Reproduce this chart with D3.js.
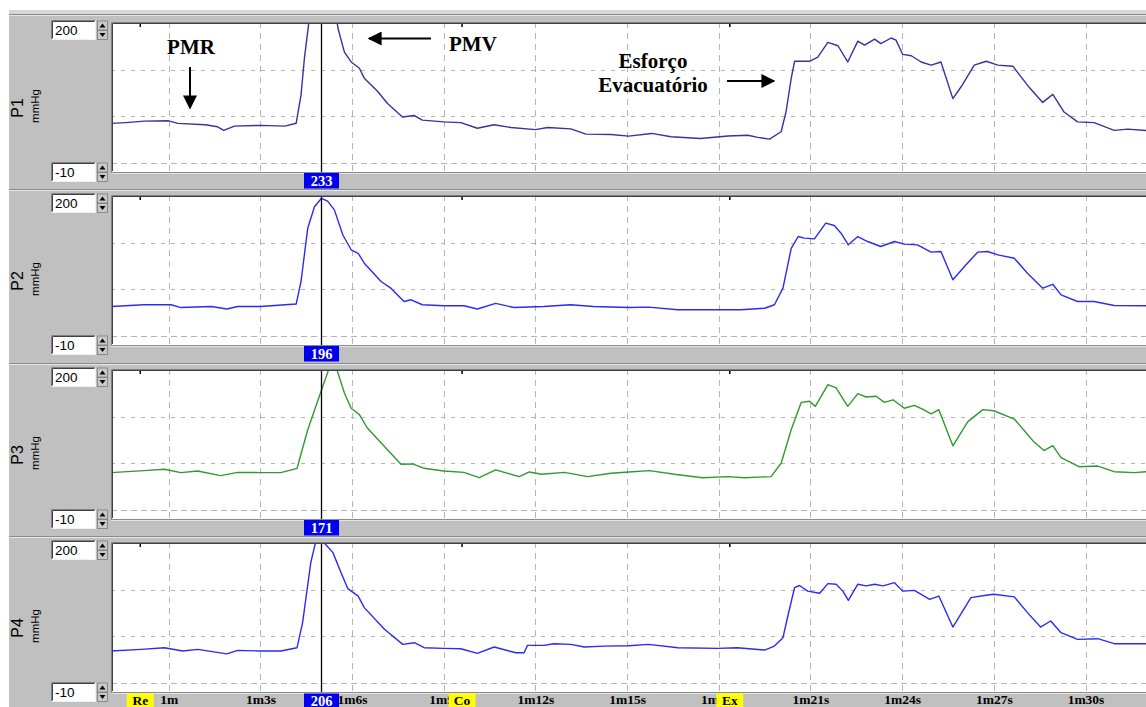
<!DOCTYPE html>
<html>
<head>
<meta charset="utf-8">
<title>Manometria</title>
<style>
  body, html { margin: 0; padding: 0; background: #fff; }
  svg { display: block; }
</style>
</head>
<body>
<svg id="svg" width="1146" height="707"></svg>
<script src="https://d3js.org/d3.v7.min.js"></script>
<script>
// channel names
const channels = ['P1', 'P2', 'P3', 'P4']

// time ticks (seconds) and their labels
const timeTicks = [60, 63, 66, 69, 72, 75, 78, 81, 84, 87, 90]
const timeLabels = ['1m', '1m3s', '1m6s', '1m9s', '1m12s', '1m15s', '1m18s', '1m21s', '1m24s', '1m27s', '1m30s']

// y range and grid values (mmHg)
const yMin = -10, yMax = 200
const yGrid = [0, 66.7, 133.3]

// event markers
const eventNames = ['Re', 'Co', 'Ex']
const eventTimes = [59.07, 69.6, 78.36]

// cursor
const cursorTime = 65.0
const cursorValues = ['233', '196', '171', '206']

// traces, time (s) and pressure (mmHg)
const p1T = [58.1, 58.6, 59.2, 60.0, 60.3, 61.2, 61.6, 61.8, 62.15, 63.0, 63.8, 64.17, 64.33, 64.44, 64.6, 65.0, 65.45, 65.55, 65.75, 65.97, 66.24, 66.4, 66.84, 67.16, 67.65, 68.04, 68.3, 69.0, 69.56, 70.1, 70.65, 71.2, 72.0, 72.4, 73.16, 73.65, 74.47, 75.05, 75.8, 76.44, 77.4, 78.3, 78.95, 79.28, 79.66, 80.04, 80.2, 80.37, 80.48, 80.97, 81.24, 81.57, 81.9, 82.22, 82.55, 82.77, 83.1, 83.3, 83.64, 83.8, 84.02, 84.3, 84.62, 84.95, 85.27, 85.66, 85.93, 86.36, 86.75, 87.13, 87.62, 88.12, 88.6, 88.93, 89.3, 89.74, 90.28, 90.94, 91.38, 92.0]
const p1V = [56.8, 58, 60, 60.5, 56.8, 55, 52, 47, 53, 54, 53, 57, 97, 149, 205, 233, 215, 190, 158, 144, 135, 121, 102, 85, 66, 68, 61.5, 59, 58, 50, 55, 51, 48, 51, 49, 41.6, 41, 38.8, 42.6, 37.8, 35.5, 39, 40, 37, 34.5, 45, 73, 120.6, 145, 145, 151, 171.7, 167, 144, 173.6, 168, 176.4, 170, 178, 175, 154.7, 152.8, 144, 139.5, 144, 92, 108.8, 139.5, 145, 139.5, 138, 110, 86.6, 98, 73, 59, 58, 47, 48.7, 46.8]

const p2T = [58.1, 59.2, 60.08, 60.4, 61.4, 61.9, 62.26, 63.0, 64.17, 64.33, 64.55, 64.77, 65.0, 65.2, 65.42, 65.7, 65.97, 66.2, 66.4, 66.95, 67.27, 67.7, 67.93, 68.3, 69.0, 69.66, 70.1, 70.7, 71.3, 72.28, 73.15, 73.9, 75.05, 75.7, 76.66, 77.97, 78.73, 79.5, 79.82, 80.1, 80.37, 80.6, 80.8, 81.13, 81.5, 81.78, 82.0, 82.24, 82.55, 82.87, 83.3, 83.75, 84.07, 84.5, 84.95, 85.27, 85.66, 86.04, 86.47, 86.8, 87.13, 87.67, 88.1, 88.6, 88.93, 89.2, 89.74, 90.28, 90.94, 92.0]
const p2V = [42.5, 45, 45, 41, 42.5, 39, 42.5, 42.5, 46, 78, 153.6, 184, 196, 192, 179.6, 144, 123, 118, 104, 78, 68.5, 49.6, 52, 45, 43.5, 43.5, 39, 47, 41, 42.5, 45, 42.5, 41, 41.6, 37.8, 37.8, 37.8, 40, 45, 68.5, 125, 141.8, 139.5, 138.5, 160.7, 157.4, 146.5, 130, 141.8, 134.7, 127.6, 134.7, 131, 130, 119.6, 120.5, 80.4, 99.3, 119.6, 120.5, 115.8, 111, 89.8, 68.5, 74, 59, 49.6, 49.6, 44, 43.5]

const p3T = [58.1, 59.2, 59.86, 60.4, 60.95, 61.7, 62.26, 63.0, 63.67, 64.2, 64.55, 65.0, 65.26, 65.48, 65.75, 65.97, 66.24, 66.5, 67.06, 67.6, 67.98, 68.36, 69.0, 69.66, 70.16, 70.7, 71.47, 71.8, 72.2, 72.95, 73.71, 74.47, 75.05, 75.73, 76.55, 77.47, 78.3, 78.84, 79.71, 80.04, 80.37, 80.7, 80.97, 81.16, 81.57, 81.84, 82.22, 82.55, 82.82, 83.15, 83.42, 83.7, 84.07, 84.4, 84.7, 84.95, 85.2, 85.66, 86.15, 86.64, 87.0, 87.67, 88.3, 88.64, 88.93, 89.2, 89.8, 90.4, 90.94, 91.6, 92.0]
const p3V = [53.7, 56.5, 58.4, 53.7, 56, 49.4, 54, 53.7, 53.7, 59.8, 114.5, 171, 203, 203, 166.7, 145, 136, 117, 90.7, 65.5, 66, 59.8, 56, 54, 46.5, 57.5, 48, 54.6, 51.3, 54, 48, 52.7, 54.5, 56.5, 51.3, 46.5, 48, 46.5, 48, 67, 114.5, 153.4, 155, 147.7, 178.6, 174, 147.7, 165.8, 161, 162, 153.4, 157, 145, 149, 143, 137, 143, 91.7, 126, 143, 141.5, 129.7, 97.8, 85, 92, 75, 62, 63, 55, 53.7, 55]

const p4T = [58.1, 59.1, 59.86, 60.46, 60.95, 61.9, 62.26, 63.0, 63.67, 64.2, 64.38, 64.65, 64.82, 65.0, 65.12, 65.37, 65.64, 65.86, 66.2, 66.4, 67.06, 67.66, 68.04, 68.36, 69.0, 69.56, 70.1, 70.65, 71.36, 71.63, 71.74, 72.28, 72.6, 73.16, 73.6, 74.25, 75.05, 75.7, 76.66, 77.97, 78.6, 79.5, 79.82, 80.1, 80.26, 80.48, 80.64, 80.91, 81.3, 81.57, 81.84, 82.06, 82.24, 82.55, 82.82, 83.1, 83.37, 83.75, 84.02, 84.4, 84.9, 85.2, 85.66, 86.25, 86.8, 87.0, 87.67, 88.1, 88.53, 88.86, 89.2, 89.74, 90.4, 90.94, 92.0]
const p4V = [46, 48.3, 50.7, 46, 48.3, 42, 47, 46, 46, 50.7, 86, 171.6, 203, 206, 198, 186, 157, 134.6, 124, 107.6, 76.8, 55.5, 57.8, 50.7, 49.8, 49.3, 42.7, 51.7, 43.6, 43.6, 54, 54, 56.4, 55.5, 51.7, 53, 53.5, 55.5, 50.7, 49.8, 50.7, 47.4, 53, 65, 95.7, 136, 139, 131, 128, 141.7, 140.8, 131, 118, 140.8, 138.4, 140.8, 138.4, 143, 131, 132, 119.4, 124, 80, 121.8, 125.6, 126.6, 122.8, 100.5, 80, 88.6, 72, 62.6, 63.5, 56.4, 56.4]

const traces = [
  p1T.map((t, i) => ({ t, v: p1V[i] })),
  p2T.map((t, i) => ({ t, v: p2V[i] })),
  p3T.map((t, i) => ({ t, v: p3V[i] })),
  p4T.map((t, i) => ({ t, v: p4V[i] }))
]

// layout
const W = 1146, H = 707
const plotLeft = 111, plotRight = 1150
const panelTops = [22, 195, 369, 542]
const panelH = 150
const lineColors = ['#34349e', '#2b2bf2', '#31992f', '#2b2bf2']
const serif = '"Liberation Serif", "Times New Roman", serif'
const sans = '"Liberation Sans", Arial, sans-serif'

const svg = d3.select('#svg')

const x = d3.scaleLinear()
  .domain([60, 90])
  .range([168.7, 1085.5])

// window frame
svg.append('rect').attr('x', 9).attr('y', 10).attr('width', W - 9).attr('height', H - 10)
  .attr('fill', '#c0c0c0')
svg.append('rect').attr('x', 9).attr('y', 10).attr('width', W - 9).attr('height', 4)
  .attr('fill', '#d6d6d6')
svg.append('line').attr('x1', 9).attr('x2', W).attr('y1', 14.5).attr('y2', 14.5)
  .attr('stroke', '#8a8a8a')
svg.append('line').attr('x1', 9).attr('x2', W).attr('y1', 15.5).attr('y2', 15.5)
  .attr('stroke', '#e4e4e4')

const defs = svg.append('defs')
defs.append('marker')
  .attr('id', 'head')
  .attr('viewBox', '0 0 10 10')
  .attr('refX', 9).attr('refY', 5)
  .attr('markerWidth', 16).attr('markerHeight', 14)
  .attr('markerUnits', 'userSpaceOnUse')
  .attr('orient', 'auto')
  .append('path').attr('d', 'M0,0 L10,5 L0,10 Z').attr('fill', '#000')

function spinBox(g, y, label) {
  // text box
  g.append('rect').attr('x', 51).attr('y', y).attr('width', 45).attr('height', 20)
    .attr('fill', '#fff')
  g.append('path').attr('d', `M51.5,${y + 19.5} V${y + 0.5} H95.5`)
    .attr('fill', 'none').attr('stroke', '#808080')
  g.append('path').attr('d', `M52.5,${y + 18.5} V${y + 1.5} H94.5`)
    .attr('fill', 'none').attr('stroke', '#404040')
  g.append('path').attr('d', `M51.5,${y + 19.5} H95.5 V${y + 0.5}`)
    .attr('fill', 'none').attr('stroke', '#f0f0f0')
  g.append('text').attr('x', 55).attr('y', y + 15).text(label)
    .attr('font-family', sans).attr('font-size', 13.5).attr('fill', '#000')
  // spinner buttons
  ;[0, 1].forEach(k => {
    const by = y + 1 + k * 9.5
    g.append('rect').attr('x', 97.5).attr('y', by).attr('width', 10).attr('height', 9)
      .attr('fill', '#c8c8c8').attr('stroke', '#7a7a7a').attr('stroke-width', 0.8)
    const cx = 102.5, cy = by + 4.5
    const tri = k === 0
      ? `M${cx - 3},${cy + 2} L${cx + 3},${cy + 2} L${cx},${cy - 2} Z`
      : `M${cx - 3},${cy - 2} L${cx + 3},${cy - 2} L${cx},${cy + 2} Z`
    g.append('path').attr('d', tri).attr('fill', '#000')
  })
}

function cursorBox(g, yTop, label) {
  const cx = x(cursorTime)
  g.append('rect').attr('x', cx - 17.5).attr('y', yTop).attr('width', 35).attr('height', 15.5)
    .attr('fill', '#0000f0')
  g.append('text').attr('x', cx).attr('y', yTop + 12.5).attr('text-anchor', 'middle')
    .text(label).attr('font-family', serif).attr('font-weight', 'bold')
    .attr('font-size', 14.5).attr('fill', '#fff')
}

channels.forEach((name, i) => {
  const top = panelTops[i]
  const bottom = top + panelH
  const y = d3.scaleLinear().domain([yMin, yMax]).range([top + 148.5, top + 0.5])
  const g = svg.append('g').attr('class', 'panel')

  // separator above each lower panel
  if (i > 0) {
    g.append('line').attr('x1', 9).attr('x2', W).attr('y1', top - 5.5).attr('y2', top - 5.5)
      .attr('stroke', '#8a8a8a')
    g.append('line').attr('x1', 9).attr('x2', W).attr('y1', top - 4.5).attr('y2', top - 4.5)
      .attr('stroke', '#e8e8e8')
  }

  // plot area
  g.append('rect').attr('x', plotLeft).attr('y', top).attr('width', plotRight - plotLeft)
    .attr('height', panelH).attr('fill', '#fff')

  defs.append('clipPath').attr('id', 'clip' + i)
    .append('rect').attr('x', plotLeft).attr('y', top)
    .attr('width', plotRight - plotLeft).attr('height', panelH)

  const inner = g.append('g').attr('clip-path', `url(#clip${i})`)

  // vertical grid
  inner.selectAll('line.vg').data(timeTicks).enter().append('line')
    .attr('class', 'vg')
    .attr('x1', d => Math.round(x(d)) + 0.5).attr('x2', d => Math.round(x(d)) + 0.5)
    .attr('y1', top).attr('y2', bottom)
    .attr('stroke', '#b4b4b4').attr('stroke-dasharray', '6,5')

  // horizontal grid
  inner.selectAll('line.hg').data(yGrid).enter().append('line')
    .attr('class', 'hg')
    .attr('x1', plotLeft).attr('x2', plotRight)
    .attr('y1', d => Math.round(y(d)) + 0.5).attr('y2', d => Math.round(y(d)) + 0.5)
    .attr('stroke', '#b4b4b4')
    .attr('stroke-dasharray', d => d === 0 ? '6,4' : '4,6')

  // event ticks at top
  inner.selectAll('line.ev').data(eventTimes).enter().append('line')
    .attr('class', 'ev')
    .attr('x1', d => x(d)).attr('x2', d => x(d))
    .attr('y1', top).attr('y2', top + 5)
    .attr('stroke', '#000').attr('stroke-width', 1.5)

  // trace
  const line = d3.line().x(d => x(d.t)).y(d => y(d.v))
  inner.append('path').datum(traces[i])
    .attr('d', line)
    .attr('fill', 'none')
    .attr('stroke', lineColors[i])
    .attr('stroke-width', 1.4)
    .attr('stroke-linejoin', 'round')

  // cursor line
  inner.append('line')
    .attr('x1', x(cursorTime)).attr('x2', x(cursorTime))
    .attr('y1', top).attr('y2', bottom)
    .attr('stroke', '#000').attr('stroke-width', 1.3)

  // plot border (sunken)
  g.append('path').attr('d', `M${plotLeft + 0.5},${bottom} V${top + 0.5} H${plotRight}`)
    .attr('fill', 'none').attr('stroke', '#808080').attr('stroke-width', 1)
  g.append('path').attr('d', `M${plotLeft + 1.5},${bottom - 1} V${top + 1.5} H${plotRight}`)
    .attr('fill', 'none').attr('stroke', '#404040').attr('stroke-width', 1)
  g.append('line').attr('x1', plotLeft).attr('x2', plotRight)
    .attr('y1', bottom + 0.5).attr('y2', bottom + 0.5).attr('stroke', '#8a8a8a')
  g.append('line').attr('x1', plotLeft).attr('x2', plotRight)
    .attr('y1', bottom + 1.5).attr('y2', bottom + 1.5).attr('stroke', '#e4e4e4')

  // range boxes
  spinBox(g, top - 2, String(yMax))
  spinBox(g, top + 140, String(yMin))

  // channel label
  const lx = 23, ly = top + 86
  g.append('text').attr('transform', `translate(${lx},${ly}) rotate(-90)`)
    .attr('text-anchor', 'middle').text(name)
    .attr('font-family', sans).attr('font-size', 16).attr('fill', '#000')
  g.append('text').attr('transform', `translate(${lx + 16},${ly - 2}) rotate(-90)`)
    .attr('text-anchor', 'middle').text('mmHg')
    .attr('font-family', sans).attr('font-size', 11.5).attr('fill', '#000')

  // value at cursor (last one is drawn after the time axis)
  if (i < 3) cursorBox(g, bottom + 1, cursorValues[i])
})

// time axis in the bottom strip
const axisY = panelTops[3] + panelH
const timeAxis = d3.axisBottom(x)
  .tickValues(timeTicks)
  .tickFormat((d, i) => timeLabels[i])
  .tickSize(0)
  .tickPadding(0)
const ax = svg.append('g').attr('transform', `translate(0,${axisY})`).call(timeAxis)
ax.select('.domain').remove()
ax.selectAll('text')
  .attr('dy', null)
  .attr('y', 12)
  .attr('font-family', serif)
  .attr('font-weight', 'bold')
  .attr('font-size', 13.5)
  .attr('fill', '#000')

// event labels
eventNames.forEach((name, k) => {
  const cx = x(eventTimes[k])
  svg.append('rect').attr('x', cx - 13.5).attr('y', axisY + 1.5).attr('width', 27).attr('height', 16)
    .attr('fill', '#ffff00')
  svg.append('text').attr('x', cx).attr('y', axisY + 12.5).attr('text-anchor', 'middle')
    .text(name).attr('font-family', serif).attr('font-weight', 'bold')
    .attr('font-size', 13.5).attr('fill', '#000')
})
cursorBox(svg, axisY + 1.5, cursorValues[3])

// annotations
const notes = svg.append('g')
  .attr('font-family', serif).attr('font-weight', 'bold').attr('font-size', 21).attr('fill', '#000')
notes.append('text').attr('x', 191).attr('y', 54).attr('text-anchor', 'middle').text('PMR')
notes.append('line').attr('x1', 190).attr('y1', 67).attr('x2', 190).attr('y2', 108)
  .attr('stroke', '#000').attr('stroke-width', 2).attr('marker-end', 'url(#head)')
notes.append('text').attr('x', 449).attr('y', 51).text('PMV')
notes.append('line').attr('x1', 431).attr('y1', 38.5).attr('x2', 369).attr('y2', 38.5)
  .attr('stroke', '#000').attr('stroke-width', 2).attr('marker-end', 'url(#head)')
notes.append('text').attr('x', 653).attr('y', 68).attr('text-anchor', 'middle').text('Esforço')
notes.append('text').attr('x', 653).attr('y', 92).attr('text-anchor', 'middle').text('Evacuatório')
notes.append('line').attr('x1', 727).attr('y1', 81).attr('x2', 774).attr('y2', 81)
  .attr('stroke', '#000').attr('stroke-width', 2).attr('marker-end', 'url(#head)')
</script>
</body>
</html>
